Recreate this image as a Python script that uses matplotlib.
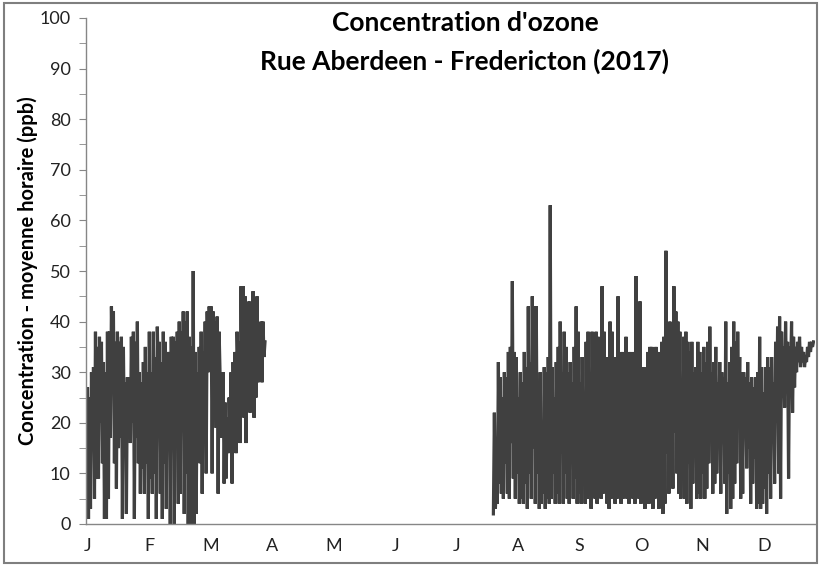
import numpy as np
import matplotlib
matplotlib.use("Agg")
import matplotlib.pyplot as plt
from matplotlib.patches import Rectangle

plt.rcParams['font.family'] = ['Lato', 'DejaVu Sans']

# hourly ozone, summarised as daily low / high (ppb)
# segment 1: day 0 (Jan 1) .. day 89
seg1_start = 0
seg1_low = [22, 1, 3, 17, 5, 9, 9, 20, 12, 1,
            1, 5, 17, 30, 12, 7, 15, 17, 1, 16,
            2, 18, 16, 20, 1, 17, 12, 6, 11, 6,
            12, 1, 9, 6, 10, 1, 28, 6, 1, 12,
            3, 17, 0, 15, 0, 20, 4, 6, 19, 2,
            10, 0, 0, 0, 0, 2, 13, 12, 6, 20,
            10, 30, 38, 10, 27, 19, 6, 29, 17, 8,
            9, 14, 17, 8, 19, 14, 30, 16, 25, 21,
            16, 25, 22, 28, 21, 25, 28, 33, 28, 33]
seg1_high = [27, 25, 30, 31, 38, 35, 37, 36, 32, 30,
             38, 38, 43, 42, 36, 38, 36, 37, 35, 28,
             29, 29, 37, 38, 36, 40, 30, 28, 32, 35,
             30, 38, 30, 38, 33, 39, 36, 32, 38, 36,
             34, 34, 37, 37, 36, 38, 40, 38, 42, 40,
             42, 37, 35, 50, 34, 30, 35, 38, 34, 40,
             42, 43, 43, 42, 40, 41, 38, 30, 30, 24,
             21, 25, 30, 32, 34, 38, 36, 47, 47, 45,
             42, 44, 40, 46, 41, 45, 38, 40, 40, 36]

# segment 2: day 204 (late July) .. day 364
seg2_start = 204
seg2_low = [2, 3, 4, 8, 6, 5, 12, 6, 5, 16,
            9, 5, 10, 4, 5, 4, 8, 3, 10, 5,
            15, 4, 10, 3, 4, 6, 3, 5, 4, 5,
            10, 4, 6, 4, 14, 4, 10, 5, 4, 16,
            5, 9, 4, 6, 4, 12, 4, 5, 14, 3,
            8, 5, 4, 10, 5, 6, 12, 4, 3, 5,
            14, 4, 5, 9, 4, 5, 10, 5, 4, 18,
            5, 4, 10, 5, 4, 12, 3, 6, 4, 8,
            3, 5, 13, 3, 6, 2, 4, 14, 6, 10,
            7, 18, 10, 6, 5, 12, 5, 4, 12, 3,
            8, 18, 5, 6, 5, 10, 5, 7, 12, 20,
            6, 8, 10, 18, 6, 20, 8, 2, 10, 3,
            5, 8, 12, 20, 5, 6, 23, 11, 15, 4,
            8, 13, 3, 4, 3, 4, 7, 2, 10, 5,
            17, 8, 20, 10, 5, 25, 23, 28, 9, 30,
            22, 27, 30, 32, 31, 32, 31, 32, 33, 34,
            35]
seg2_high = [22, 8, 32, 29, 25, 30, 29, 34, 35, 48,
             34, 33, 25, 30, 28, 34, 31, 43, 32, 45,
             43, 43, 26, 30, 20, 31, 30, 33, 63, 31,
             25, 32, 35, 40, 30, 38, 35, 30, 32, 28,
             35, 43, 38, 28, 33, 25, 36, 38, 30, 38,
             24, 38, 37, 32, 47, 38, 30, 33, 40, 38,
             33, 30, 45, 30, 34, 31, 37, 30, 34, 28,
             34, 49, 35, 44, 30, 31, 26, 34, 35, 35,
             30, 35, 34, 30, 36, 37, 54, 38, 40, 36,
             47, 42, 40, 38, 25, 37, 38, 36, 34, 36,
             30, 31, 36, 34, 30, 35, 32, 36, 39, 30,
             32, 35, 28, 32, 30, 29, 40, 28, 32, 35,
             40, 36, 38, 33, 30, 30, 29, 32, 28, 29,
             27, 29, 30, 37, 31, 26, 31, 33, 31, 33,
             28, 36, 39, 41, 38, 35, 40, 36, 35, 40,
             37, 35, 36, 37, 35, 34, 33, 35, 36, 36,
             36]

month_labels = ['J', 'F', 'M', 'A', 'M', 'J', 'J', 'A', 'S', 'O', 'N', 'D']


def zigzag(start, lows, highs):
    days = start + np.arange(len(lows))
    t = np.column_stack([days + 0.25, days + 0.75]).ravel()
    v = np.column_stack([lows, highs]).ravel()
    return t, v


fig = plt.figure(figsize=(8.2, 5.65), dpi=100)
ax = fig.add_axes([86 / 820, 41 / 565, 729 / 820, 506 / 565])

for start, lo, hi in [(seg1_start, seg1_low, seg1_high), (seg2_start, seg2_low, seg2_high)]:
    t, v = zigzag(start, lo, hi)
    ax.plot(t, v, color='#404040', lw=2.3, solid_joinstyle='miter')

ax.set_xlim(0, 365.5)
ax.set_ylim(0, 100)

ax.set_yticks(np.arange(0, 101, 10))
ax.set_yticks(np.arange(5, 100, 10), minor=True)
ax.tick_params(axis='y', which='both', direction='out', length=5, color='#868686',
               labelsize=13, labelcolor='#222222', pad=6)

ax.set_xticks(np.arange(12) * 30.8 + 1)
ax.set_xticklabels(month_labels)
ax.tick_params(axis='x', length=0, labelsize=13, labelcolor='#222222', pad=10)

for side in ['top', 'right']:
    ax.spines[side].set_visible(False)
for side in ['left', 'bottom']:
    ax.spines[side].set_color('#868686')
    ax.spines[side].set_linewidth(1.0)

ax.set_ylabel('Concentration - moyenne horaire (ppb)', fontsize=14.5, fontweight='bold',
              labelpad=1)

fig.text(465 / 820, 1 - 23 / 565, "Concentration d'ozone", ha='center', va='center',
         fontsize=19, fontweight='bold')
fig.text(465 / 820, 1 - 61 / 565, 'Rue Aberdeen - Fredericton (2017)', ha='center',
         va='center', fontsize=19, fontweight='bold')

fig.patches.append(Rectangle((4 / 820, 2 / 565), 813 / 820, 560 / 565,
                             transform=fig.transFigure, fill=False,
                             edgecolor='#7f7f7f', lw=1.5))

fig.savefig('out.png', dpi=100)
